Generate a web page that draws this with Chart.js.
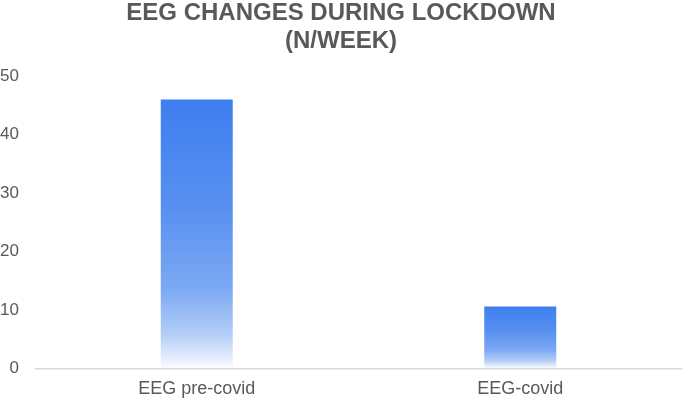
<!DOCTYPE html>
<html>
<head>
<meta charset="utf-8">
<script src="https://cdn.jsdelivr.net/npm/chart.js@4"></script>
<style>
  html, body { margin: 0; padding: 0; background: #fff; }
  #wrap { width: 685px; height: 399px; }
</style>
</head>
<body>
<div id="wrap"><canvas id="myChart"></canvas></div>
<script>
const categories = ["EEG pre-covid", "EEG-covid"]
const eegPerWeek = [46, 10.6]
const yTicks = [0, 10, 20, 30, 40, 50]

const txt = "#595959"
const fontFam = "'Liberation Sans', Arial, sans-serif"

// each bar fades from blue at its top to white at its base
const barFill = c => {
  const chart = c.chart
  const y = chart.scales && chart.scales.y
  if (!chart.chartArea || !y || c.type !== "data") return "#3d7ef0"
  const top = y.getPixelForValue(c.raw)
  const base = y.getPixelForValue(0)
  const g = chart.ctx.createLinearGradient(0, top, 0, base)
  g.addColorStop(0, "#3d7ef0")
  g.addColorStop(0.4, "#5890f0")
  g.addColorStop(0.7, "#7ba8f3")
  g.addColorStop(0.88, "#b5cff7")
  g.addColorStop(1, "#fbfcff")
  return g
}

const drawChart = () => {
  new Chart(document.getElementById("myChart"), {
    type: "bar",
    data: {
      labels: categories,
      datasets: [
        {
          label: "EEG (n/week)",
          data: eegPerWeek,
          backgroundColor: barFill,
          borderWidth: 0,
          barPercentage: 0.445,
          categoryPercentage: 0.5,
        },
      ],
    },
    options: {
      responsive: true,
      maintainAspectRatio: false,
      animation: false,
      layout: { padding: { left: 0, right: 3, top: -1, bottom: -11 } },
      plugins: {
        legend: { display: false },
        tooltip: { enabled: false },
        title: {
          display: true,
          text: ["EEG CHANGES DURING LOCKDOWN", "(N/WEEK)"],
          color: txt,
          font: { family: fontFam, size: 24, weight: "bold", lineHeight: 1.17 },
          padding: { top: 0, bottom: 21 },
        },
      },
      scales: {
        x: {
          border: { display: false },
          grid: { display: false, drawTicks: false },
          ticks: {
            color: txt,
            padding: 10,
            font: { family: fontFam, size: 18 },
          },
        },
        y: {
          min: 0,
          max: 50,
          afterBuildTicks: axis => { axis.ticks = yTicks.map(v => ({ value: v })) },
          afterFit: axis => { axis.width = 35 },
          border: { display: false },
          grid: {
            drawTicks: false,
            color: c => (c.tick && c.tick.value === 0 ? "#d9d9d9" : "rgba(0,0,0,0)"),
            lineWidth: 1.5,
          },
          ticks: {
            color: txt,
            padding: 16,
            font: { family: fontFam, size: 17 },
          },
        },
      },
    },
  })
}

window.addEventListener("load", drawChart)
</script>
</body>
</html>
